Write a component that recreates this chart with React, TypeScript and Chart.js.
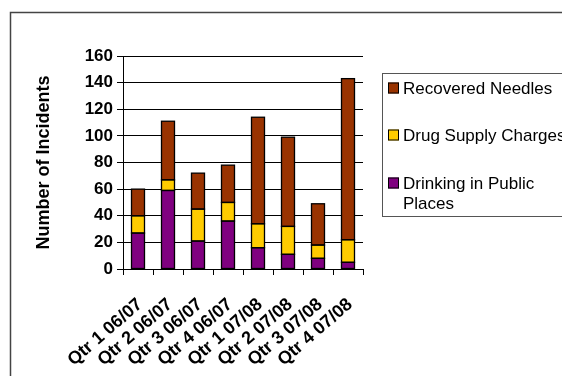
import React, { useEffect, useRef } from 'react';
import { Chart, registerables } from 'chart.js';

Chart.register(...registerables);

const categories = [
  'Qtr 1 06/07',
  'Qtr 2 06/07',
  'Qtr 3 06/07',
  'Qtr 4 06/07',
  'Qtr 1 07/08',
  'Qtr 2 07/08',
  'Qtr 3 07/08',
  'Qtr 4 07/08',
];
const drinkingInPublic = [27, 59, 21, 36, 16, 11, 8, 5];
const drugSupplyCharges = [13, 8, 24, 14, 18, 21, 10, 17];
const recoveredNeedles = [20, 44, 27, 28, 80, 67, 31, 121];

const yMin = 0;
const yMax = 160;
const yStep = 20;

const seriesNames = ['Drinking in Public Places', 'Drug Supply Charges', 'Recovered Needles'];
const legendLines = [['Recovered Needles'], ['Drug Supply Charges'], ['Drinking in Public', 'Places']];

const COLORS = { drinking: '#800080', drug: '#FFCC00', needles: '#993300' };
const FONT = '"Liberation Sans", Arial, Helvetica, sans-serif';

const barOutlinePlugin = {
  id: 'barOutline',
  afterDatasetsDraw(chart: any) {
    const ctx = chart.ctx as CanvasRenderingContext2D;
    ctx.save();
    ctx.strokeStyle = '#000';
    ctx.lineWidth = 1.3;
    chart.data.datasets.forEach((_: any, di: number) => {
      const meta = chart.getDatasetMeta(di);
      meta.data.forEach((bar: any) => {
        const { x, y, base, width } = bar.getProps(['x', 'y', 'base', 'width'], true);
        const left = x - width / 2;
        const top = Math.min(y, base);
        const h = Math.abs(base - y);
        ctx.strokeRect(left, top, width, h);
      });
    });
    ctx.restore();
  },
};

const framePlugin = {
  id: 'frameAndLegend',
  afterDraw(chart: any) {
    const ctx = chart.ctx as CanvasRenderingContext2D;
    ctx.save();
    // outer frame
    ctx.strokeStyle = '#444';
    ctx.lineWidth = 1.5;
    ctx.beginPath();
    ctx.moveTo(10.5, 380);
    ctx.lineTo(10.5, 12.5);
    ctx.lineTo(570, 12.5);
    ctx.stroke();

    // legend box
    ctx.lineWidth = 1;
    ctx.strokeStyle = '#555';
    ctx.strokeRect(382.5, 73.5, 200, 143);

    const items = [
      { color: COLORS.needles, lines: legendLines[0], y: 88 },
      { color: COLORS.drug, lines: legendLines[1], y: 135 },
      { color: COLORS.drinking, lines: legendLines[2], y: 183 },
    ];
    ctx.font = '17px ' + FONT;
    ctx.textBaseline = 'middle';
    ctx.textAlign = 'left';
    items.forEach((it) => {
      ctx.fillStyle = it.color;
      ctx.fillRect(388, it.y - 5.5, 11, 11);
      ctx.strokeStyle = '#000';
      ctx.lineWidth = 1;
      ctx.strokeRect(388.5, it.y - 5, 10, 10);
      ctx.fillStyle = '#000';
      it.lines.forEach((ln, i) => {
        ctx.fillText(ln, 403, it.y + i * 20 + 1);
      });
    });
    ctx.restore();
  },
};

export default function App() {
  const ref = useRef<HTMLCanvasElement | null>(null);
  useEffect(() => {
    if (!ref.current) return;
    const barStyle = {
      borderWidth: 0,
      inflateAmount: 0,
      barThickness: 13,
    };
    const chart = new Chart(ref.current, {
      type: 'bar',
      data: {
        labels: categories,
        datasets: [
          { label: seriesNames[0], data: drinkingInPublic, backgroundColor: COLORS.drinking, ...barStyle },
          { label: seriesNames[1], data: drugSupplyCharges, backgroundColor: COLORS.drug, ...barStyle },
          { label: seriesNames[2], data: recoveredNeedles, backgroundColor: COLORS.needles, ...barStyle },
        ],
      },
      options: {
        responsive: false,
        animation: false,
        devicePixelRatio: 1,
        layout: { padding: { top: 56, right: 199, left: 0, bottom: 0 } },
        plugins: { legend: { display: false }, tooltip: { enabled: false }, title: { display: false } },
        scales: {
          x: {
            stacked: true,
            grid: {
              display: true,
              drawOnChartArea: false,
              drawTicks: true,
              tickLength: 6,
              offset: true,
              color: '#000',
            },
            border: { display: true, color: '#000', width: 1 },
            ticks: {
              autoSkip: false,
              minRotation: 41,
              maxRotation: 41,
              padding: 19,
              labelOffset: 2,
              color: '#000',
              font: { family: FONT, size: 18, weight: 'bold' },
            },
            afterFit: (s: any) => {
              s.height = 107;
            },
          },
          y: {
            stacked: true,
            min: yMin,
            max: yMax,
            grid: { color: '#000', lineWidth: 1, drawTicks: true, tickLength: 6 },
            border: { display: true, color: '#000', width: 1 },
            ticks: {
              stepSize: yStep,
              padding: 4,
              color: '#000',
              font: { family: FONT, size: 17, weight: 'bold' },
            },
            title: {
              display: true,
              text: 'Number of Incidents',
              color: '#000',
              font: { family: FONT, size: 18, weight: 'bold' },
              padding: { top: 33, bottom: 0 },
            },
            afterFit: (s: any) => {
              s.width = 123;
            },
          },
        },
      },
      plugins: [barOutlinePlugin, framePlugin],
    });
    return () => chart.destroy();
  }, []);
  return (
    <div style={{ position: 'fixed', left: 0, top: 0, width: 562, height: 376, background: '#fff' }}>
      <canvas ref={ref} width={562} height={376} style={{ display: 'block' }} />
    </div>
  );
}
